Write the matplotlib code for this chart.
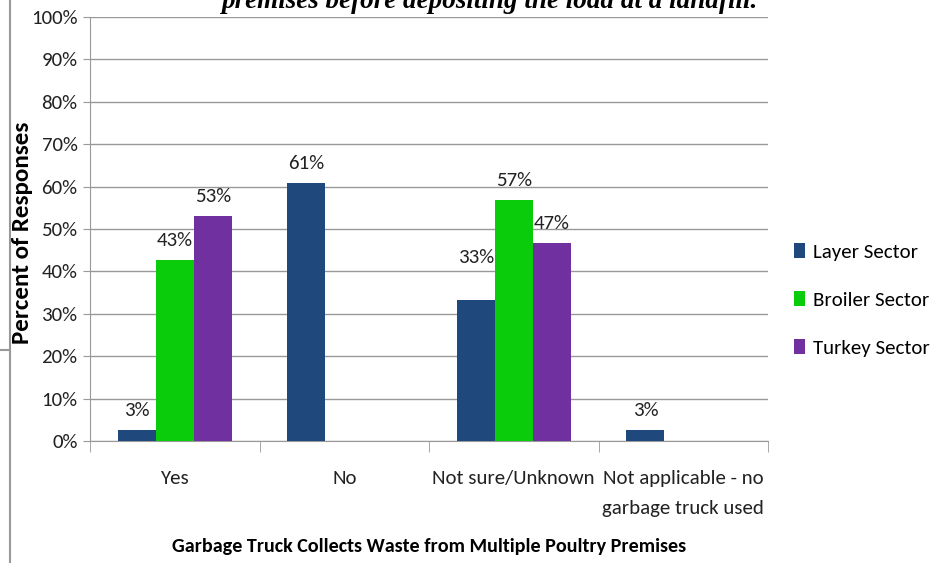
import matplotlib.pyplot as plt
import numpy as np
from matplotlib.lines import Line2D

plt.rcParams['font.family'] = ['Carlito', 'DejaVu Sans']

categories = ['Yes', 'No', 'Not sure/Unknown', 'Not applicable - no\ngarbage truck used']
series_names = ['Layer Sector', 'Broiler Sector', 'Turkey Sector']
layer = [2.6, 60.8, 33.2, 2.6]
broiler = [42.7, 0, 56.8, 0]
turkey = [53.1, 0, 46.6, 0]
colors = ['#1F497D', '#0ACC0A', '#7030A0']

fig = plt.figure(figsize=(9.4, 5.63), dpi=100)
ax = fig.add_axes([90 / 940, 1 - 441 / 563, (768 - 90) / 940, (441 - 17) / 563])

x = np.arange(len(categories))
w = 0.224
allvals = [layer, broiler, turkey]
for i, vals in enumerate(allvals):
    pos = x + (i - 1) * w
    ax.bar(pos, vals, width=w, color=colors[i], label=series_names[i], zorder=3)
    for p, v in zip(pos, vals):
        if v > 0:
            off = 25 if v == 33.2 else 8
            ax.annotate('%.0f%%' % v, (p, v), xytext=(0, off),
                        textcoords='offset points', ha='center', va='bottom',
                        fontsize=15, color='#222222')

ax.set_xlim(-0.5, 3.5)
ax.set_ylim(0, 100)
ax.set_yticks(range(0, 101, 10))
ax.set_yticklabels(['%d%%' % t for t in range(0, 101, 10)], fontsize=15, color='#222222')
ax.yaxis.grid(True, color='#999999', linewidth=1, zorder=0)
ax.set_xticks(x)
ax.set_xticklabels(categories, fontsize=15, color='#222222', linespacing=1.9)
ax.set_xticks(np.arange(-0.5, 4, 1), minor=True)
ax.tick_params(axis='x', which='major', length=0, pad=21)
ax.tick_params(axis='x', which='minor', length=8, color='#999999')
ax.tick_params(axis='y', length=5, color='#999999', pad=4)
for s in ['top', 'right']:
    ax.spines[s].set_visible(False)
for s in ['left', 'bottom']:
    ax.spines[s].set_color('#999999')

ax.set_ylabel('Percent of Responses', fontsize=18, fontweight='bold')
ax.yaxis.set_label_coords(-0.084, 0.49)
ax.set_xlabel('Garbage Truck Collects Waste from Multiple Poultry Premises',
              fontsize=14.5, fontweight='bold')
ax.xaxis.set_label_coords(0.5, -0.228)

ax.legend(loc='center left', bbox_to_anchor=(1.01, 0.333), frameon=False, fontsize=15,
          handlelength=0.55, handleheight=0.75, handletextpad=0.4, labelspacing=1.45)

fig.text(490 / 940, 1 - 8 / 563, 'premises before depositing the load at a landfill.',
         ha='center', va='baseline', fontsize=19.5, fontweight='bold', style='italic',
         family=['Liberation Serif'])

fig.add_artist(Line2D([10 / 940, 10 / 940], [0, 1], color='#999999', linewidth=1.5))
fig.add_artist(Line2D([0, 10 / 940], [1 - 350 / 563, 1 - 350 / 563], color='#999999', linewidth=1.5))

fig.savefig('out.png', dpi=100)
